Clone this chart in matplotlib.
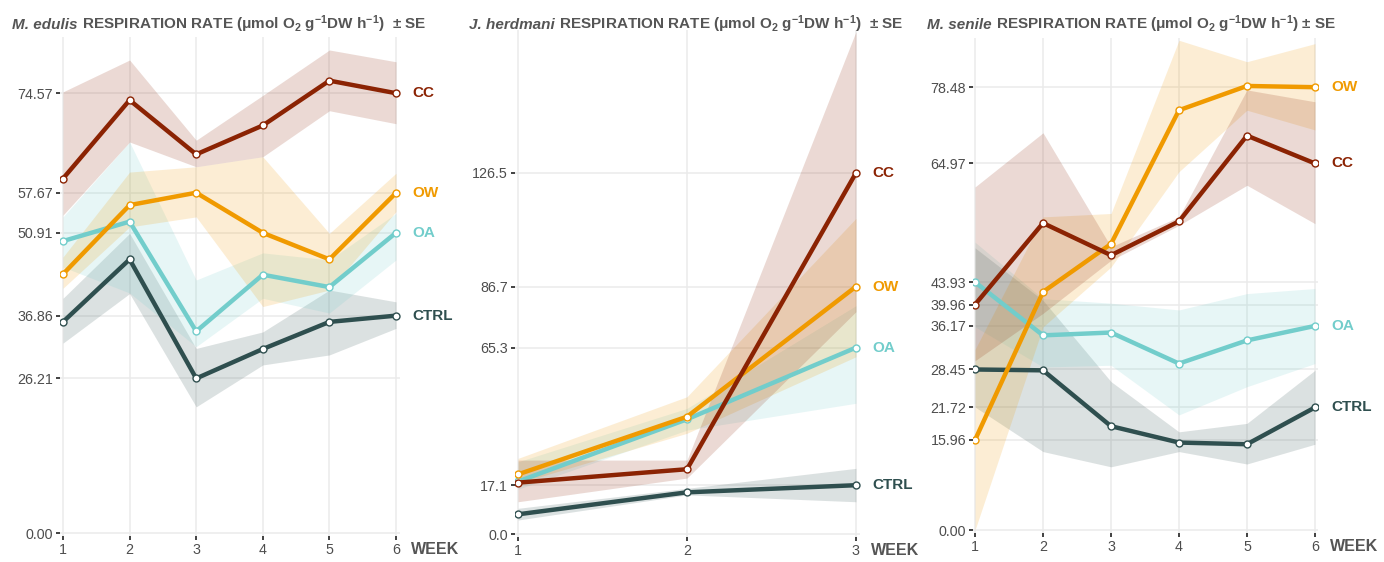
import matplotlib
matplotlib.use("Agg")
import matplotlib.pyplot as plt

FONT = ["Liberation Sans", "DejaVu Sans"]
plt.rcParams["font.family"] = FONT
plt.rcParams["mathtext.fontset"] = "custom"
plt.rcParams["mathtext.rm"] = "Liberation Sans"
plt.rcParams["mathtext.bf"] = "Liberation Sans:bold"
plt.rcParams["mathtext.default"] = "bf"

# ---- data ----
treatments = ["CTRL", "OA", "OW", "CC"]
colors = {"CC": "#8B2303", "OW": "#F09A00", "OA": "#72CDCB", "CTRL": "#2F4F4F"}

# M. edulis, weeks 1-6
edulis_weeks = [1, 2, 3, 4, 5, 6]
edulis_cc = [60.1, 73.4, 64.2, 69.1, 76.7, 74.57]
edulis_cc_lo = [53.9, 66.3, 62.1, 63.8, 71.6, 69.4]
edulis_cc_hi = [74.8, 80.2, 66.6, 74.2, 81.9, 79.9]
edulis_ow = [43.9, 55.6, 57.7, 50.9, 46.4, 57.67]
edulis_ow_lo = [41.5, 51.9, 53.6, 38.4, 41.2, 54.5]
edulis_ow_hi = [46.8, 61.2, 62.1, 63.8, 50.8, 61.0]
edulis_oa = [49.5, 52.8, 34.2, 43.8, 41.7, 50.91]
edulis_oa_lo = [45.1, 40.7, 31.6, 39.8, 37.3, 46.3]
edulis_oa_hi = [53.6, 66.3, 42.9, 47.5, 46.3, 54.2]
edulis_ctrl = [35.8, 46.4, 26.21, 31.2, 35.8, 36.86]
edulis_ctrl_lo = [32.2, 40.6, 21.4, 28.5, 30.2, 34.7]
edulis_ctrl_hi = [39.8, 50.8, 31.3, 34.1, 41.2, 39.2]
edulis_yticks = [0.00, 26.21, 36.86, 50.91, 57.67, 74.57]

# J. herdmani, weeks 1-3
herdmani_weeks = [1, 2, 3]
herdmani_cc = [18.0, 22.7, 126.5]
herdmani_cc_lo = [11.3, 19.6, 77.9]
herdmani_cc_hi = [25.9, 25.9, 176.0]
herdmani_ow = [20.9, 41.1, 86.7]
herdmani_ow_lo = [17.8, 35.3, 62.1]
herdmani_ow_hi = [26.5, 48.1, 110.6]
herdmani_oa = [18.4, 40.2, 65.3]
herdmani_oa_lo = [15.7, 36.4, 45.8]
herdmani_oa_hi = [25.3, 44.0, 80.0]
herdmani_ctrl = [6.9, 14.6, 17.1]
herdmani_ctrl_lo = [4.9, 13.7, 11.3]
herdmani_ctrl_hi = [9.0, 16.0, 23.0]
herdmani_yticks = [0.0, 17.1, 65.3, 86.7, 126.5]

# M. senile, weeks 1-6
senile_weeks = [1, 2, 3, 4, 5, 6]
senile_cc = [39.96, 54.4, 48.7, 54.7, 69.9, 64.97]
senile_cc_lo = [30.0, 38.4, 47.8, 54.0, 61.1, 54.3]
senile_cc_hi = [60.8, 70.4, 50.2, 55.5, 78.0, 75.9]
senile_ow = [15.96, 42.2, 50.7, 74.4, 78.7, 78.48]
senile_ow_lo = [0.0, 36.0, 46.6, 63.5, 74.4, 70.9]
senile_ow_hi = [32.0, 55.5, 56.1, 86.8, 83.0, 86.2]
senile_oa = [43.93, 34.5, 35.0, 29.5, 33.6, 36.17]
senile_oa_lo = [36.0, 28.9, 29.2, 20.4, 25.4, 29.5]
senile_oa_hi = [51.0, 41.0, 40.2, 39.0, 41.9, 42.8]
senile_ctrl = [28.45, 28.3, 18.4, 15.5, 15.2, 21.72]
senile_ctrl_lo = [21.8, 13.9, 11.2, 13.9, 11.7, 15.2]
senile_ctrl_hi = [50.0, 40.7, 26.3, 17.4, 18.9, 28.3]
senile_yticks = [0.00, 15.96, 21.72, 28.45, 36.17, 39.96, 43.93, 64.97, 78.48]

panels = [
    dict(name="M. edulis", weeks=edulis_weeks, yticks=edulis_yticks, fmt="{:.2f}",
         mean={"CC": edulis_cc, "OW": edulis_ow, "OA": edulis_oa, "CTRL": edulis_ctrl},
         lo={"CC": edulis_cc_lo, "OW": edulis_ow_lo, "OA": edulis_oa_lo, "CTRL": edulis_ctrl_lo},
         hi={"CC": edulis_cc_hi, "OW": edulis_ow_hi, "OA": edulis_oa_hi, "CTRL": edulis_ctrl_hi},
         box=(60, 400, 37, 536), xlim=(0.955, 6.06), ylim=(-0.5, 84.1), title_x=12,
         sep="  "),
    dict(name="J. herdmani", weeks=herdmani_weeks, yticks=herdmani_yticks, fmt="{:.1f}",
         mean={"CC": herdmani_cc, "OW": herdmani_ow, "OA": herdmani_oa, "CTRL": herdmani_ctrl},
         lo={"CC": herdmani_cc_lo, "OW": herdmani_ow_lo, "OA": herdmani_oa_lo, "CTRL": herdmani_ctrl_lo},
         hi={"CC": herdmani_cc_hi, "OW": herdmani_ow_hi, "OA": herdmani_oa_hi, "CTRL": herdmani_ctrl_hi},
         box=(515, 860, 30, 537), xlim=(0.982, 3.024), ylim=(-1.05, 176.6), title_x=469,
         sep="  "),
    dict(name="M. senile", weeks=senile_weeks, yticks=senile_yticks, fmt="{:.2f}",
         mean={"CC": senile_cc, "OW": senile_ow, "OA": senile_oa, "CTRL": senile_ctrl},
         lo={"CC": senile_cc_lo, "OW": senile_ow_lo, "OA": senile_oa_lo, "CTRL": senile_ctrl_lo},
         hi={"CC": senile_cc_hi, "OW": senile_ow_hi, "OA": senile_oa_hi, "CTRL": senile_ctrl_hi},
         box=(973, 1318, 38, 533), xlim=(0.97, 6.045), ylim=(-0.53, 87.2), title_x=927,
         sep=" "),
]

W, H = 1384, 562
fig = plt.figure(figsize=(W / 100, H / 100), dpi=100)
GREY = "#555555"
TITLE_BASE = (H - 29) / H

for p in panels:
    x0, x1, ytop, ybot = p["box"]
    ax = fig.add_axes([x0 / W, (H - ybot) / H, (x1 - x0) / W, (ybot - ytop) / H])
    ax.set_xlim(*p["xlim"])
    ax.set_ylim(*p["ylim"])
    for s in ax.spines.values():
        s.set_visible(False)
    ax.set_axisbelow(True)
    ax.grid(True, color="#EBEBEB", linewidth=1.1)
    ax.set_xticks(p["weeks"])
    ax.set_yticks(p["yticks"])
    ax.set_yticklabels([p["fmt"].format(v) for v in p["yticks"]])
    ax.tick_params(axis="both", length=3, width=1.3, color="#333333",
                   labelcolor="#4D4D4D", labelsize=10.3, pad=2)

    wk = p["weeks"]
    for t in treatments:
        ax.fill_between(wk, p["lo"][t], p["hi"][t], color=colors[t], alpha=0.17,
                        linewidth=0)
    for t in treatments:
        ax.plot(wk, p["mean"][t], color=colors[t], linewidth=3.2, marker="o",
                markersize=5, markerfacecolor="white", markeredgecolor=colors[t],
                markeredgewidth=1.0, solid_joinstyle="miter", zorder=3)
        ax.annotate(t, xy=(wk[-1], p["mean"][t][-1]), xytext=(12, 0),
                    textcoords="offset points", ha="left", va="center",
                    color=colors[t], fontsize=11, fontweight="bold",
                    annotation_clip=False)

    ax.annotate("WEEK", xy=(wk[-1], 0), xycoords=("data", "axes fraction"),
                xytext=(11, -10), textcoords="offset points", ha="left",
                va="center", color=GREY, fontsize=11.5, fontweight="bold",
                annotation_clip=False)

    # title: italic species name followed by the bold rest, same baseline
    t1 = fig.text(p["title_x"] / W, TITLE_BASE, p["name"], style="italic",
                  fontweight="bold", color=GREY, fontsize=11, va="baseline")
    fig.add_artist(plt.Annotation(
        r" RESPIRATION RATE (μmol O$_2$ g$^{-1}$DW h$^{-1}$)" + p["sep"] + "± SE",
        xy=(1, TITLE_BASE), xycoords=(t1, "figure fraction"), va="baseline",
        ha="left", color=GREY, fontsize=11, fontweight="bold",
        annotation_clip=False))

fig.savefig("out.png", dpi=100)
